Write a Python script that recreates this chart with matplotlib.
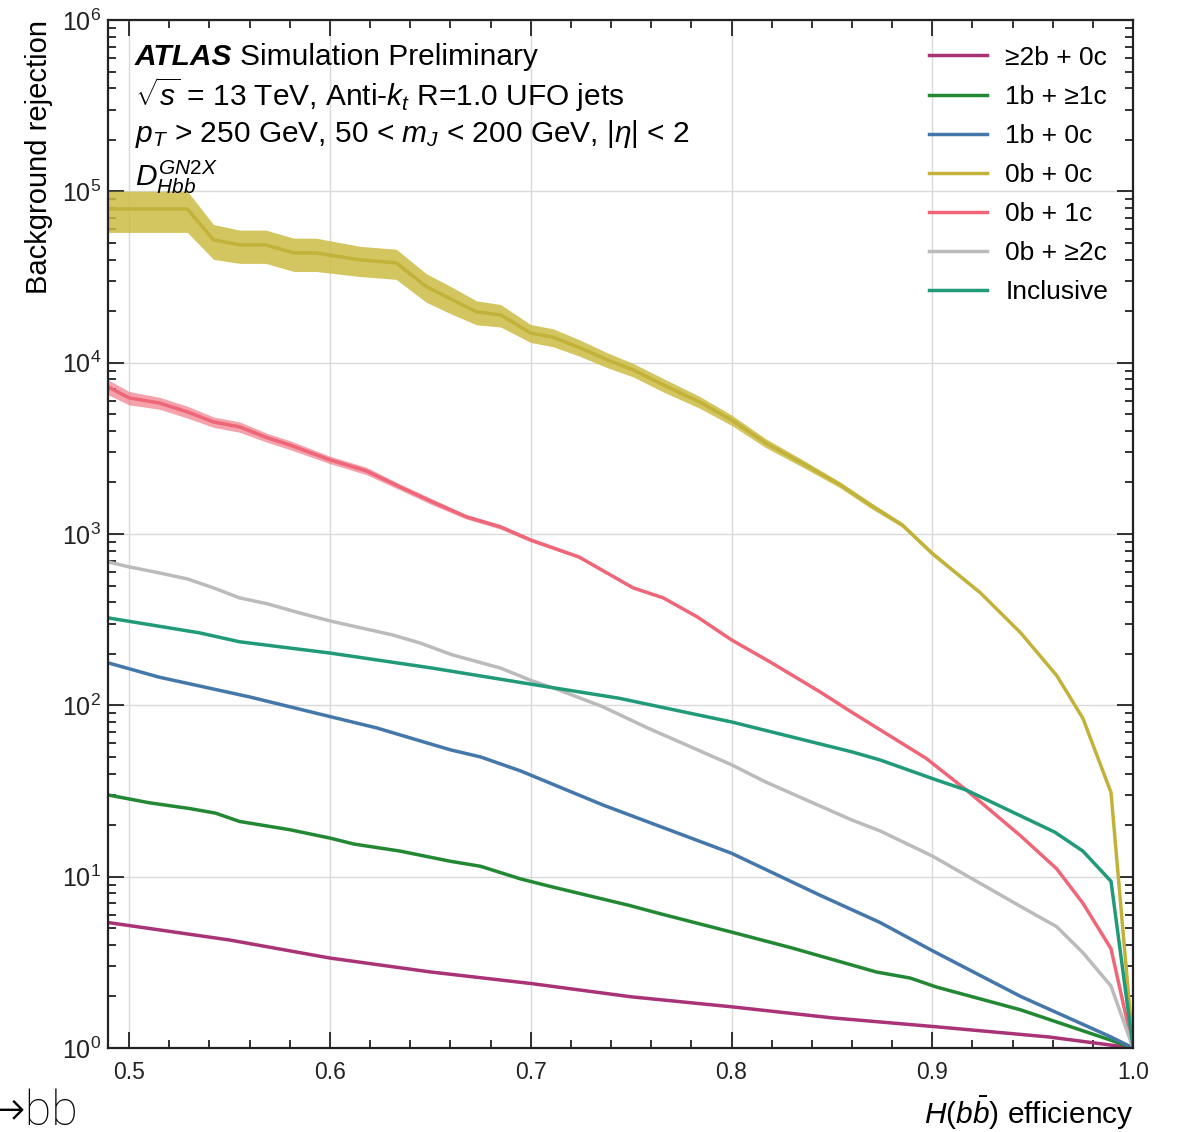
import numpy as np
import matplotlib.pyplot as plt
from matplotlib.ticker import FormatStrFormatter, MultipleLocator, LogLocator, NullFormatter

plt.rcParams['font.family'] = ['Liberation Sans', 'DejaVu Sans']
plt.rcParams['mathtext.fontset'] = 'custom'
plt.rcParams['mathtext.rm'] = 'Liberation Sans'
plt.rcParams['mathtext.it'] = 'Liberation Sans:italic'
plt.rcParams['mathtext.bf'] = 'Liberation Sans:bold'

# background rejection vs H(bb) efficiency, per truth flavour category

# >=2b + 0c
eff_2b0c = [0.4895, 0.55, 0.60, 0.65, 0.70, 0.75, 0.80, 0.85, 0.902, 0.958, 1.0]
rej_2b0c = [5.4, 4.27, 3.35, 2.78, 2.38, 1.99, 1.74, 1.50, 1.33, 1.16, 1.0]

# 1b + >=1c
eff_1b1c = [0.4895, 0.51, 0.53, 0.543, 0.555, 0.58, 0.60, 0.612, 0.635, 0.66, 0.675,
            0.695, 0.711, 0.749, 0.764, 0.80, 0.83, 0.872, 0.889, 0.902, 0.944, 0.989, 1.0]
rej_1b1c = [30, 27, 25, 23.5, 21, 18.8, 16.8, 15.5, 14.1, 12.3, 11.5,
            9.7, 8.7, 6.8, 6.1, 4.75, 3.84, 2.78, 2.56, 2.27, 1.67, 1.11, 1.0]

# 1b + 0c
eff_1b0c = [0.4895, 0.515, 0.54, 0.56, 0.60, 0.623, 0.643, 0.66, 0.675, 0.695,
            0.736, 0.80, 0.844, 0.874, 0.90, 0.944, 0.989, 1.0]
rej_1b0c = [177, 146, 126, 112, 86, 74, 63, 55, 50, 41.4,
            26.2, 13.7, 7.8, 5.4, 3.7, 2.0, 1.16, 1.0]

# 0b + 0c (with stat. uncertainty, relative)
eff_0b0c = [0.4895, 0.529, 0.542, 0.555, 0.568, 0.582, 0.593, 0.615, 0.633, 0.648,
            0.661, 0.673, 0.685, 0.70, 0.711, 0.724, 0.738, 0.751, 0.766, 0.784,
            0.80, 0.817, 0.835, 0.854, 0.869, 0.885, 0.90, 0.924, 0.944, 0.962,
            0.975, 0.989, 1.0]
rej_0b0c = [78900, 78900, 52100, 48700, 48700, 43700, 43700, 39800, 38300, 27800,
            23300, 19800, 19000, 14900, 14100, 12300, 10400, 9080, 7420, 5900,
            4630, 3400, 2600, 1940, 1480, 1130, 770, 453, 265, 149,
            84, 31, 1.0]
unc_0b0c = [0.27, 0.27, 0.23, 0.22, 0.22, 0.22, 0.22, 0.20, 0.20, 0.19,
            0.18, 0.16, 0.15, 0.12, 0.12, 0.11, 0.10, 0.09, 0.09, 0.08,
            0.07, 0.06, 0.05, 0.04, 0.04, 0.03, 0.03, 0.02, 0.02, 0.01,
            0.01, 0.0, 0.0]

# 0b + 1c (with stat. uncertainty, relative)
eff_0b1c = [0.4895, 0.50, 0.515, 0.529, 0.542, 0.555, 0.569, 0.58, 0.60, 0.618,
            0.635, 0.651, 0.668, 0.685, 0.70, 0.724, 0.751, 0.766, 0.783, 0.80,
            0.82, 0.844, 0.86, 0.874, 0.897, 0.917, 0.944, 0.962, 0.975, 0.989, 1.0]
rej_0b1c = [7220, 6230, 5820, 5160, 4510, 4220, 3640, 3310, 2710, 2340,
            1880, 1540, 1260, 1100, 923, 735, 485, 424, 328, 241,
            177, 120, 91, 72, 49, 32, 17.3, 11.1, 7.0, 3.8, 1.0]
unc_0b1c = [0.10, 0.09, 0.08, 0.08, 0.07, 0.07, 0.06, 0.06, 0.05, 0.05,
            0.04, 0.04, 0.03, 0.03, 0.025, 0.02, 0.015, 0.01, 0.01, 0.01,
            0.0, 0.0, 0.0, 0.0, 0.0, 0.0, 0.0, 0.0, 0.0, 0.0, 0.0]

# 0b + >=2c
eff_0b2c = [0.4895, 0.50, 0.515, 0.529, 0.542, 0.555, 0.569, 0.585, 0.60, 0.611,
            0.631, 0.645, 0.661, 0.685, 0.70, 0.714, 0.736, 0.758, 0.80, 0.817,
            0.86, 0.874, 0.90, 0.945, 0.962, 0.975, 0.989, 1.0]
rej_0b2c = [687, 643, 593, 547, 485, 424, 391, 346, 311, 291,
            258, 231, 197, 165, 140, 123, 98, 74, 45, 35.7,
            21.4, 18.5, 13.2, 6.6, 5.1, 3.6, 2.3, 1.0]

# inclusive
eff_incl = [0.4895, 0.535, 0.555, 0.60, 0.651, 0.70, 0.744, 0.80, 0.86, 0.874,
            0.902, 0.917, 0.961, 0.975, 0.989, 1.0]
rej_incl = [324, 265, 235, 202, 165, 133, 110, 80, 53.5, 48,
            36.7, 32, 18.2, 14.1, 9.4, 1.0]

fig = plt.figure(figsize=(11.77, 11.32), dpi=100)
ax = fig.add_axes([0.0918, 0.0742, 0.8709, 0.9081])

lw = 2.5
ax.plot(eff_2b0c, rej_2b0c, color='#aa3377', lw=lw, label='≥2b + 0c')
ax.plot(eff_1b1c, rej_1b1c, color='#228833', lw=lw, label='1b + ≥1c')
ax.plot(eff_1b0c, rej_1b0c, color='#4477aa', lw=lw, label='1b + 0c')

r = np.array(rej_0b0c)
u = np.array(unc_0b0c)
ax.fill_between(eff_0b0c, r * (1 - u), r * (1 + u), color='#ccbb44', alpha=0.85, lw=0)
ax.plot(eff_0b0c, rej_0b0c, color='#c2b23a', lw=lw, label='0b + 0c')

r = np.array(rej_0b1c)
u = np.array(unc_0b1c)
ax.fill_between(eff_0b1c, r * (1 - u), r * (1 + u), color='#ee6677', alpha=0.6, lw=0)
ax.plot(eff_0b1c, rej_0b1c, color='#ee6677', lw=lw, label='0b + 1c')

ax.plot(eff_0b2c, rej_0b2c, color='#bbbbbb', lw=lw, label='0b + ≥2c')
ax.plot(eff_incl, rej_incl, color='#209a78', lw=lw, label='Inclusive')

ax.set_yscale('log')
ax.set_xlim(0.4895, 1.0)
ax.set_ylim(1, 1e6)

ax.xaxis.set_major_locator(MultipleLocator(0.1))
ax.xaxis.set_minor_locator(MultipleLocator(0.02))
ax.xaxis.set_major_formatter(FormatStrFormatter('%.1f'))
ax.yaxis.set_major_locator(LogLocator(base=10, numticks=10))
ax.yaxis.set_minor_locator(LogLocator(base=10, subs=np.arange(2, 10), numticks=100))
ax.yaxis.set_minor_formatter(NullFormatter())

ax.tick_params(which='both', direction='in', top=True, right=True, width=1.3, colors='#222222')
ax.tick_params(which='major', length=11.5)
ax.tick_params(which='minor', length=6)
ax.tick_params(axis='x', which='major', pad=9, labelsize=16.5)
ax.tick_params(axis='y', which='major', pad=5, labelsize=18)
for sp in ax.spines.values():
    sp.set_linewidth(1.6)
    sp.set_color('#222222')

ax.grid(True, which='major', color='#d9d9d9', lw=1.0)
ax.set_axisbelow(True)

ax.set_ylabel('Background rejection', fontsize=21, loc='top')
ax.yaxis.set_label_coords(-0.054, 1.0)
ax.set_xlabel(r'$H(b\bar{b})$ efficiency', fontsize=21.5, loc='right')
ax.xaxis.set_label_coords(1.0, -0.045)

# ATLAS label block
fs = 21.5
atl = ax.text(0.026, 0.956, 'ATLAS', transform=ax.transAxes, fontsize=fs,
              fontweight='bold', fontstyle='italic', va='baseline')
ax.annotate('Simulation Preliminary', xy=(1, 0), xycoords=atl, xytext=(6, 0),
            textcoords='offset points', fontsize=fs, va='bottom')
ax.text(0.026, 0.916, r'$\sqrt{s}$ = 13 TeV, Anti-$k_t$ R=1.0 UFO jets',
        transform=ax.transAxes, fontsize=fs, va='baseline')
ax.text(0.026, 0.881, r'$p_T$ > 250 GeV, 50 < $m_J$ < 200 GeV, $|\eta|$ < 2',
        transform=ax.transAxes, fontsize=fs, va='baseline')
ax.text(0.026, 0.839, r'$D_{Hbb}^{GN2X}$',
        transform=ax.transAxes, fontsize=fs, va='baseline')

ax.legend(loc='upper right', bbox_to_anchor=(0.9756, 0.975), frameon=False,
          fontsize=19, handlelength=2.2, handletextpad=0.68, labelspacing=0.57,
          borderpad=0, borderaxespad=0)

fig.text(0.066, 0.006, '→bb', fontsize=35, family=['Roboto', 'DejaVu Sans'],
         fontweight='light', ha='right', va='baseline')

fig.savefig('out.png', dpi=100)
